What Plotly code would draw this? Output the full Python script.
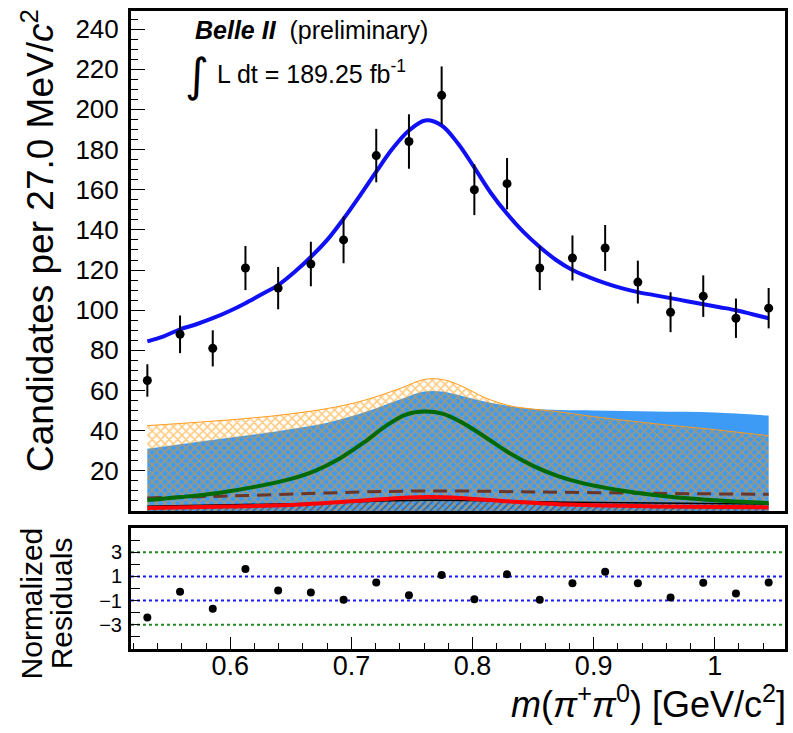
import numpy as np
import plotly.graph_objects as go

# ---------------- data ----------------
bin_centers = [0.5315, 0.5585, 0.5855, 0.6125, 0.6395, 0.6665, 0.6935, 0.7205, 0.7475, 0.7745,
               0.8015, 0.8285, 0.8555, 0.8825, 0.9095, 0.9365, 0.9635, 0.9905, 1.0175, 1.0445]
counts = [65, 88, 81, 121, 111, 123, 135, 177, 184, 207, 160, 163, 121, 126, 131, 114, 99, 107, 96, 101]
residuals = [-2.39, -0.28, -1.67, 1.61, -0.16, -0.33, -0.94, 0.50, -0.56, 1.11,
             -0.89, 1.17, -0.94, 0.44, 1.39, 0.44, -0.75, 0.47, -0.42, 0.50]

fit_x = [0.5315, 0.545, 0.5585, 0.572, 0.5855, 0.599, 0.6125, 0.626, 0.6395, 0.653, 0.6665, 0.680,
         0.6935, 0.707, 0.7205, 0.734, 0.7475, 0.761, 0.7745, 0.788, 0.8015, 0.815, 0.8285, 0.842,
         0.8555, 0.869, 0.8825, 0.896, 0.9095, 0.923, 0.9365, 0.950, 0.9635, 0.977, 0.9905, 1.004,
         1.0175, 1.031, 1.0445]
fit_y = [84.5, 87, 90.5, 93, 96, 99.5, 103.5, 108, 112.5, 119, 126.5, 135,
         145.5, 157, 169, 180.5, 189.5, 194.5, 192, 183, 171, 158.5, 148, 139,
         131.5, 125, 120, 116.5, 113.5, 111, 109, 107.5, 106, 104.5, 103, 101.5,
         100, 98, 96]

total_bkg_x = [0.5315, 0.58, 0.63, 0.68, 0.71, 0.74, 0.76, 0.775, 0.79, 0.81, 0.83, 0.846, 0.87, 0.9, 0.95, 1.0, 1.0445]
total_bkg_y = [42.5, 44.5, 47, 51, 55, 61, 65.5, 65.5, 62.5, 56.5, 52.5, 51, 49.5, 47, 43.5, 40.5, 37.5]

comb_x = [0.5315, 0.58, 0.63, 0.68, 0.71, 0.74, 0.76, 0.775, 0.79, 0.81, 0.846, 0.9, 0.95, 1.0, 1.0445]
comb_y = [31, 35, 39, 44, 49, 55.5, 59.5, 59.5, 57.5, 54.5, 51, 50, 49.5, 49, 47.5]

rho_x = [0.5315, 0.56, 0.59, 0.62, 0.65, 0.67, 0.69, 0.71, 0.73, 0.745, 0.76, 0.775, 0.79, 0.81,
         0.83, 0.85, 0.87, 0.89, 0.92, 0.95, 0.98, 1.01, 1.0445]
rho_y = [5.5, 7, 9, 12, 16, 20, 26, 34, 43, 48, 49.5, 48.5, 44.5, 37, 29, 22.5, 17.5, 14, 10.5, 8, 6.2, 5, 4]

dashed_x = [0.5315, 0.6, 0.68, 0.76, 0.85, 0.95, 1.0445]
dashed_y = [6.5, 7.5, 9, 10, 9.5, 8.8, 8.3]

red_x = [0.5315, 0.6, 0.65, 0.7, 0.74, 0.765, 0.79, 0.83, 0.88, 0.95, 1.0445]
red_y = [1.5, 2.2, 3, 4.8, 6.5, 7, 6.5, 4.8, 3.2, 2.3, 1.8]

black_x = [0.5315, 0.65, 0.76, 0.88, 1.0445]
black_y = [2.4, 3.6, 5.3, 4.4, 3.4]

main_yticks = [20, 40, 60, 80, 100, 120, 140, 160, 180, 200, 220, 240]
res_tickvals = [-4, -3, -2, -1, 0, 1, 2, 3, 4]
res_ticktext = ["", "\u22123", "", "\u22121", "", "1", "", "3", ""]
x_tickvals = [0.6, 0.7, 0.8, 0.9, 1.0]
x_ticktext = ["0.6", "0.7", "0.8", "0.9", "1"]

# ---------------- figure ----------------
FONT = "Liberation Sans, Arial, Helvetica, sans-serif"
fig = go.Figure()

fig.add_trace(go.Scatter(x=comb_x, y=comb_y, mode="lines", line=dict(color="#3d9bf5", width=0, shape="spline"),
                         fill="tozeroy", fillcolor="#3d9bf5", hoverinfo="skip", showlegend=False))
fig.add_trace(go.Scatter(x=total_bkg_x, y=total_bkg_y, mode="lines",
                         line=dict(color="#ff9a1a", width=1, shape="spline"),
                         fill="tozeroy", fillcolor="rgba(0,0,0,0)",
                         fillpattern=dict(shape="x", fgcolor="#ff9500", bgcolor="rgba(0,0,0,0)",
                                          size=6, solidity=0.45),
                         hoverinfo="skip", showlegend=False))
fig.add_trace(go.Scatter(x=black_x, y=black_y, mode="lines", line=dict(color="black", width=1.5, shape="spline"),
                         fill="tozeroy", fillcolor="rgba(0,0,0,0)",
                         fillpattern=dict(shape="/", fgcolor="#1a2a5a", bgcolor="rgba(0,0,0,0)",
                                          size=5, solidity=0.3),
                         hoverinfo="skip", showlegend=False))
fig.add_trace(go.Scatter(x=red_x, y=red_y, mode="lines", line=dict(color="#ff0000", width=4, shape="spline"),
                         hoverinfo="skip", showlegend=False))
fig.add_trace(go.Scatter(x=dashed_x, y=dashed_y, mode="lines",
                         line=dict(color="#6b3528", width=3, dash="14px,8px", shape="spline"),
                         hoverinfo="skip", showlegend=False))
fig.add_trace(go.Scatter(x=rho_x, y=rho_y, mode="lines", line=dict(color="#006a00", width=4, shape="spline"),
                         hoverinfo="skip", showlegend=False))
fig.add_trace(go.Scatter(x=fit_x, y=fit_y, mode="lines", line=dict(color="#1010f5", width=4, shape="spline"),
                         hoverinfo="skip", showlegend=False))
fig.add_trace(go.Scatter(x=bin_centers, y=counts, mode="markers",
                         marker=dict(color="black", size=9),
                         error_y=dict(type="data", array=list(np.sqrt(counts)), color="black", thickness=2, width=0),
                         showlegend=False))
fig.add_trace(go.Scatter(x=bin_centers, y=residuals, mode="markers", xaxis="x2", yaxis="y2",
                         marker=dict(color="black", size=8), showlegend=False))

for yv, col in [(3, "#228b22"), (-3, "#228b22"), (1, "#1a1aff"), (-1, "#1a1aff")]:
    fig.add_shape(type="line", xref="x2 domain", yref="y2", x0=0, x1=1, y0=yv, y1=yv,
                  line=dict(color=col, width=2, dash="dot"), layer="below")

axis_common = dict(showline=True, linewidth=3, linecolor="black", mirror=True, showgrid=False,
                   zeroline=False, tickcolor="black")

fig.update_layout(
    width=793, height=733,
    margin=dict(l=131, r=5, t=11, b=84),
    paper_bgcolor="white", plot_bgcolor="white",
    font=dict(family=FONT, color="black"),
    xaxis=dict(range=[0.518, 1.058], domain=[0, 1], anchor="y", showticklabels=False, ticks="",
               **axis_common),
    yaxis=dict(range=[0, 249], domain=[0.2163, 1], anchor="x", tickvals=main_yticks, ticks="inside",
               ticklen=14, tickwidth=1, ticklabelstandoff=4,
               tickfont=dict(family=FONT, size=26, color="black"),
               minor=dict(dtick=5, ticks="inside", ticklen=7, tickcolor="black"),
               **axis_common),
    xaxis2=dict(range=[0.518, 1.058], domain=[0, 1], anchor="y2", tickvals=x_tickvals, ticktext=x_ticktext,
                ticks="inside", ticklen=12, tickwidth=1, ticklabelstandoff=-9,
                tickfont=dict(family=FONT, size=27, color="black"),
                minor=dict(dtick=0.02, tick0=0.5, ticks="inside", ticklen=6, tickcolor="black"),
                **axis_common),
    yaxis2=dict(range=[-5, 5], domain=[0, 0.1897], anchor="x2", tickvals=res_tickvals, ticktext=res_ticktext,
                ticks="inside", ticklen=9, tickwidth=1, ticklabelstandoff=2,
                tickfont=dict(family=FONT, size=20, color="black"), **axis_common),
)

def px_x(p):
    return (p - 131) / 657.0

def px_y(p):
    return (649 - p) / 638.0

ann = []
ann.append(dict(text="Candidates per 27.0 MeV/<i>c</i><sup>2</sup>", textangle=-90, xref="paper", yref="paper",
                x=px_x(38), y=px_y(7), xanchor="center", yanchor="top", showarrow=False,
                font=dict(family=FONT, size=37, color="black")))
ann.append(dict(text="Normalized", textangle=-90, xref="paper", yref="paper",
                x=px_x(31), y=px_y(603), xanchor="center", yanchor="middle", showarrow=False,
                font=dict(family=FONT, size=30, color="black")))
ann.append(dict(text="Residuals", textangle=-90, xref="paper", yref="paper",
                x=px_x(61), y=px_y(603), xanchor="center", yanchor="middle", showarrow=False,
                font=dict(family=FONT, size=30, color="black")))
ann.append(dict(text="<i>m</i>(<i>\u03c0</i><sup>+</sup><i>\u03c0</i><sup>0</sup>) [GeV/c<sup>2</sup>]",
                xref="paper", yref="paper", x=px_x(791), y=px_y(702), xanchor="right", yanchor="middle",
                showarrow=False, font=dict(family=FONT, size=36, color="black")))
ann.append(dict(text="<b><i>Belle II</i></b>  (preliminary)", xref="paper", yref="paper",
                x=px_x(193), y=px_y(30), xanchor="left", yanchor="middle", showarrow=False,
                font=dict(family=FONT, size=25, color="black")))
ann.append(dict(text="\u222b", xref="paper", yref="paper",
                x=px_x(197), y=px_y(75), xanchor="center", yanchor="middle", showarrow=False,
                font=dict(family="DejaVu Sans", size=46, color="black")))
ann.append(dict(text="L dt = 189.25 fb<sup>-1</sup>", xref="paper", yref="paper",
                x=px_x(215), y=px_y(72), xanchor="left", yanchor="middle", showarrow=False,
                font=dict(family=FONT, size=25, color="black")))
fig.update_layout(annotations=ann)

fig.write_html("out.html", config={"displayModeBar": False},
               post_script="document.body.style.margin='0px';document.body.style.overflow='hidden';")
